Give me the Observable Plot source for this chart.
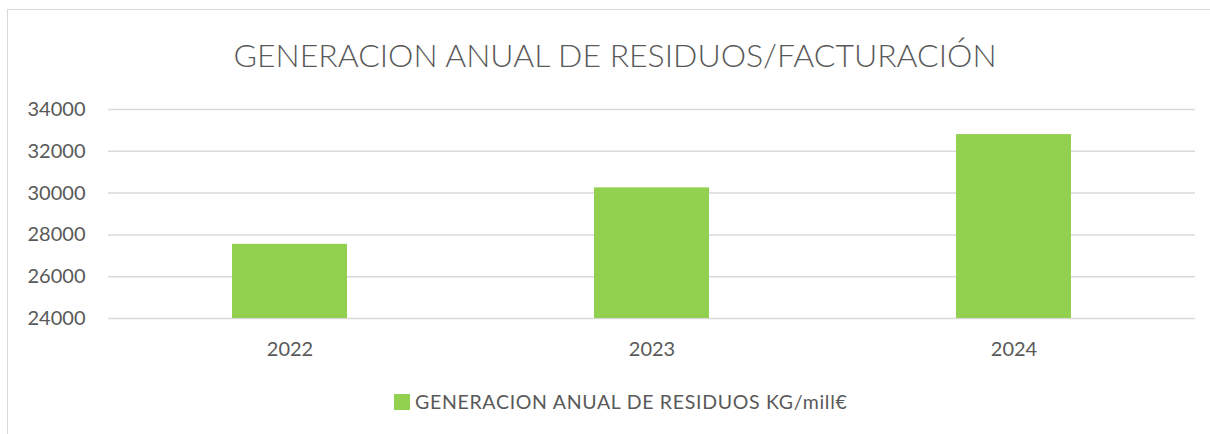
<!DOCTYPE html>
<html>
<head>
<meta charset="utf-8">
<script src="https://cdn.jsdelivr.net/npm/d3@7"></script>
<script src="https://cdn.jsdelivr.net/npm/@observablehq/plot@0.6"></script>
<style>
  body { margin: 0; background: #fff; }
  #wrap { position: relative; width: 1210px; height: 434px; overflow: hidden; font-family: Lato, "Open Sans", sans-serif; color: #595959; }
  #frame { position: absolute; left: 7px; top: 9px; width: 1400px; height: 600px; border: 1.5px solid #d9d9d9; box-sizing: border-box; }
  #title { position: absolute; left: 0; width: 1230px; top: 39px; text-align: center; font-size: 32px; line-height: 1; font-weight: 300; }
  #chart { position: absolute; left: 0; top: 0; }
  #legend { position: absolute; left: 394px; top: 392px; font-size: 19.5px; letter-spacing: 0.7px; line-height: 20px; display: flex; align-items: center; white-space: nowrap; }
  #legend .sw { width: 16px; height: 16px; background: #92D050; margin-right: 5px; }
</style>
</head>
<body>
<div id="wrap">
  <div id="frame"></div>
  <div id="title">GENERACION ANUAL DE RESIDUOS/FACTURACIÓN</div>
  <div id="chart"></div>
  <div id="legend"><span class="sw"></span><span id="legtext"></span></div>
</div>
<script>
const years = ["2022", "2023", "2024"];
const values = [27550, 30250, 32800];
const yTicks = [24000, 26000, 28000, 30000, 32000, 34000];
const seriesName = "GENERACION ANUAL DE RESIDUOS KG/mill€";

const data = years.map((y, i) => ({year: y, value: values[i]}));
const yMin = yTicks[0];

document.getElementById("legtext").textContent = seriesName;

const plot = Plot.plot({
  width: 1210,
  height: 434,
  marginLeft: 108,
  marginRight: 15,
  marginTop: 109,
  marginBottom: 116,
  style: {fontFamily: "Lato, 'Open Sans', sans-serif", fontSize: "20px", color: "#595959", background: "transparent"},
  x: {domain: years, paddingInner: 0.683, paddingOuter: 0.342, label: null},
  y: {domain: [yTicks[0], yTicks[yTicks.length - 1]], label: null},
  marks: [
    Plot.gridY(yTicks, {stroke: "#d9d9d9", strokeOpacity: 1, strokeWidth: 1.5}),
    Plot.barY(data, {x: "year", y1: () => yMin, y2: "value", fill: "#92D050"}),
    Plot.axisY(yTicks, {tickSize: 0, tickPadding: 23, fill: "#595959", fontSize: 20, label: null, tickFormat: d => String(d)}),
    Plot.axisX({tickSize: 0, tickPadding: 23, fill: "#595959", fontSize: 20, label: null})
  ]
});
document.getElementById("chart").appendChild(plot);
</script>
</body>
</html>
